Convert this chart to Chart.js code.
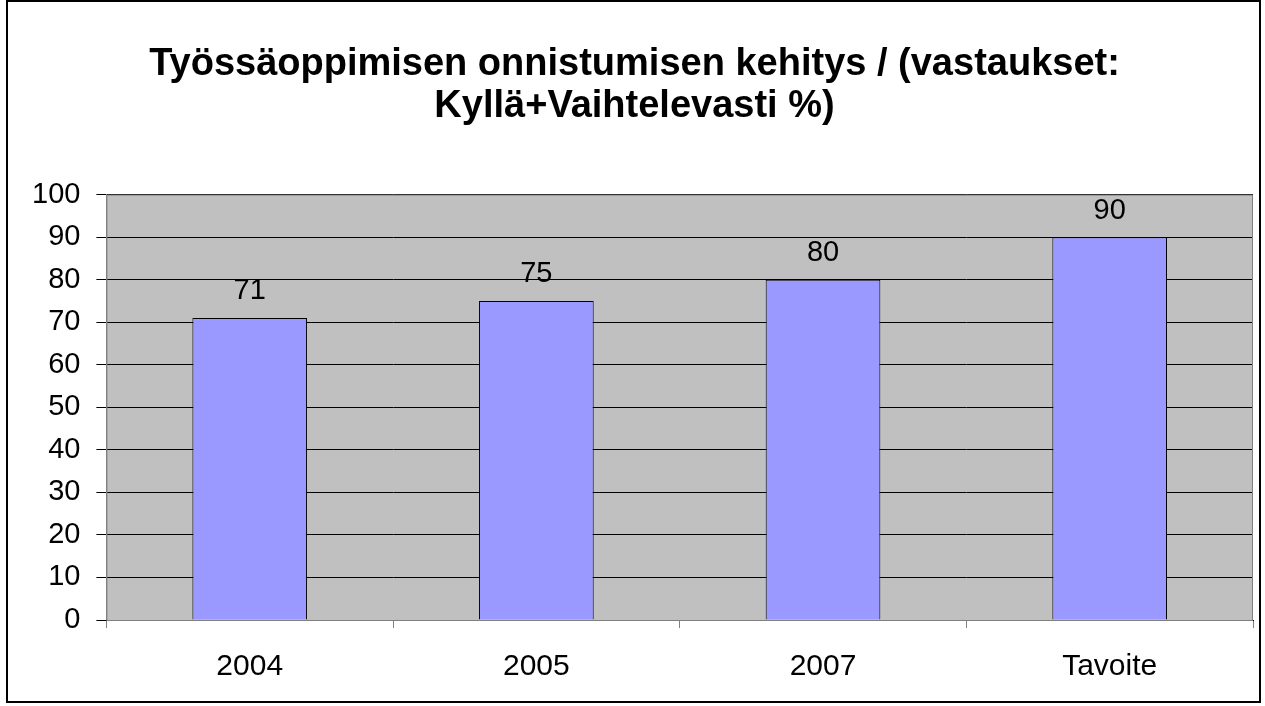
<!DOCTYPE html>
<html>
<head>
<meta charset="utf-8">
<script src="https://cdn.jsdelivr.net/npm/chart.js@4"></script>
<style>
  html, body { margin: 0; padding: 0; background: #fff; }
  #kehys { position: absolute; left: 6px; top: 0px; width: 1255px; height: 703px; border: 2px solid #000; box-sizing: border-box; }
  #kaavio { position: absolute; left: 0; top: 0; }
</style>
</head>
<body>
<div id="kehys"></div>
<canvas id="kaavio" width="1265" height="706"></canvas>
<script>
// Data
const vuodet = ['2004', '2005', '2007', 'Tavoite'];
const arvot = [71, 75, 80, 90];
const otsikko = ['Työssäoppimisen onnistumisen kehitys / (vastaukset:', 'Kyllä+Vaihtelevasti %)'];

const fontti = '"Liberation Sans", Arial, sans-serif';

// harmaa tausta piirtoalueelle
const taustaPlugin = {
  id: 'tausta',
  beforeDraw(chart) {
    const { ctx, chartArea: a } = chart;
    ctx.save();
    ctx.fillStyle = '#C0C0C0';
    ctx.fillRect(a.left, a.top, a.right - a.left, a.bottom - a.top);
    ctx.restore();
  },
  afterDraw(chart) {
    const { ctx, chartArea: a } = chart;
    ctx.save();
    ctx.strokeStyle = '#808080';
    ctx.lineWidth = 1;
    ctx.strokeRect(a.left + 0.5, a.top + 0.5, a.right - a.left - 1, a.bottom - a.top);
    ctx.restore();
  }
};

// arvot pylväiden päälle
const arvoPlugin = {
  id: 'arvot',
  afterDatasetsDraw(chart) {
    const ctx = chart.ctx;
    const meta = chart.getDatasetMeta(0);
    ctx.save();
    ctx.fillStyle = '#000';
    ctx.font = '29px ' + fontti;
    ctx.textAlign = 'center';
    ctx.textBaseline = 'bottom';
    meta.data.forEach((bar, i) => {
      ctx.fillText(String(arvot[i]), bar.x, bar.y - 12);
    });
    ctx.restore();
  }
};

window.onload = function () {
  const ctx = document.getElementById('kaavio');
  new Chart(ctx, {
    type: 'bar',
    data: {
      labels: vuodet,
      datasets: [{
        data: arvot,
        backgroundColor: '#9999FF',
        borderColor: '#000',
        borderWidth: 1,
        barPercentage: 0.4,
        categoryPercentage: 1.0
      }]
    },
    options: {
      responsive: false,
      animation: false,
      layout: { padding: { left: 16, right: 12, top: 0, bottom: 0 } },
      plugins: {
        legend: { display: false },
        tooltip: { enabled: false },
        title: {
          display: true,
          text: otsikko,
          color: '#000',
          font: { family: fontti, size: 38, weight: 'bold', lineHeight: 1.1 },
          padding: { top: 44, bottom: 67 }
        }
      },
      scales: {
        y: {
          min: 0,
          max: 100,
          ticks: { stepSize: 10, color: '#000', font: { family: fontti, size: 29 }, padding: 16 },
          grid: { color: '#000', lineWidth: 1, tickLength: 10, drawTicks: true },
          border: { display: true, color: '#808080' }
        },
        x: {
          ticks: { color: '#000', font: { family: fontti, size: 30, lineHeight: 1.2 }, padding: 21 },
          grid: { offset: true, drawOnChartArea: false, color: '#808080', tickLength: 8 },
          border: { display: true, color: '#000' }
        }
      }
    },
    plugins: [taustaPlugin, arvoPlugin]
  });
};
</script>
</body>
</html>
